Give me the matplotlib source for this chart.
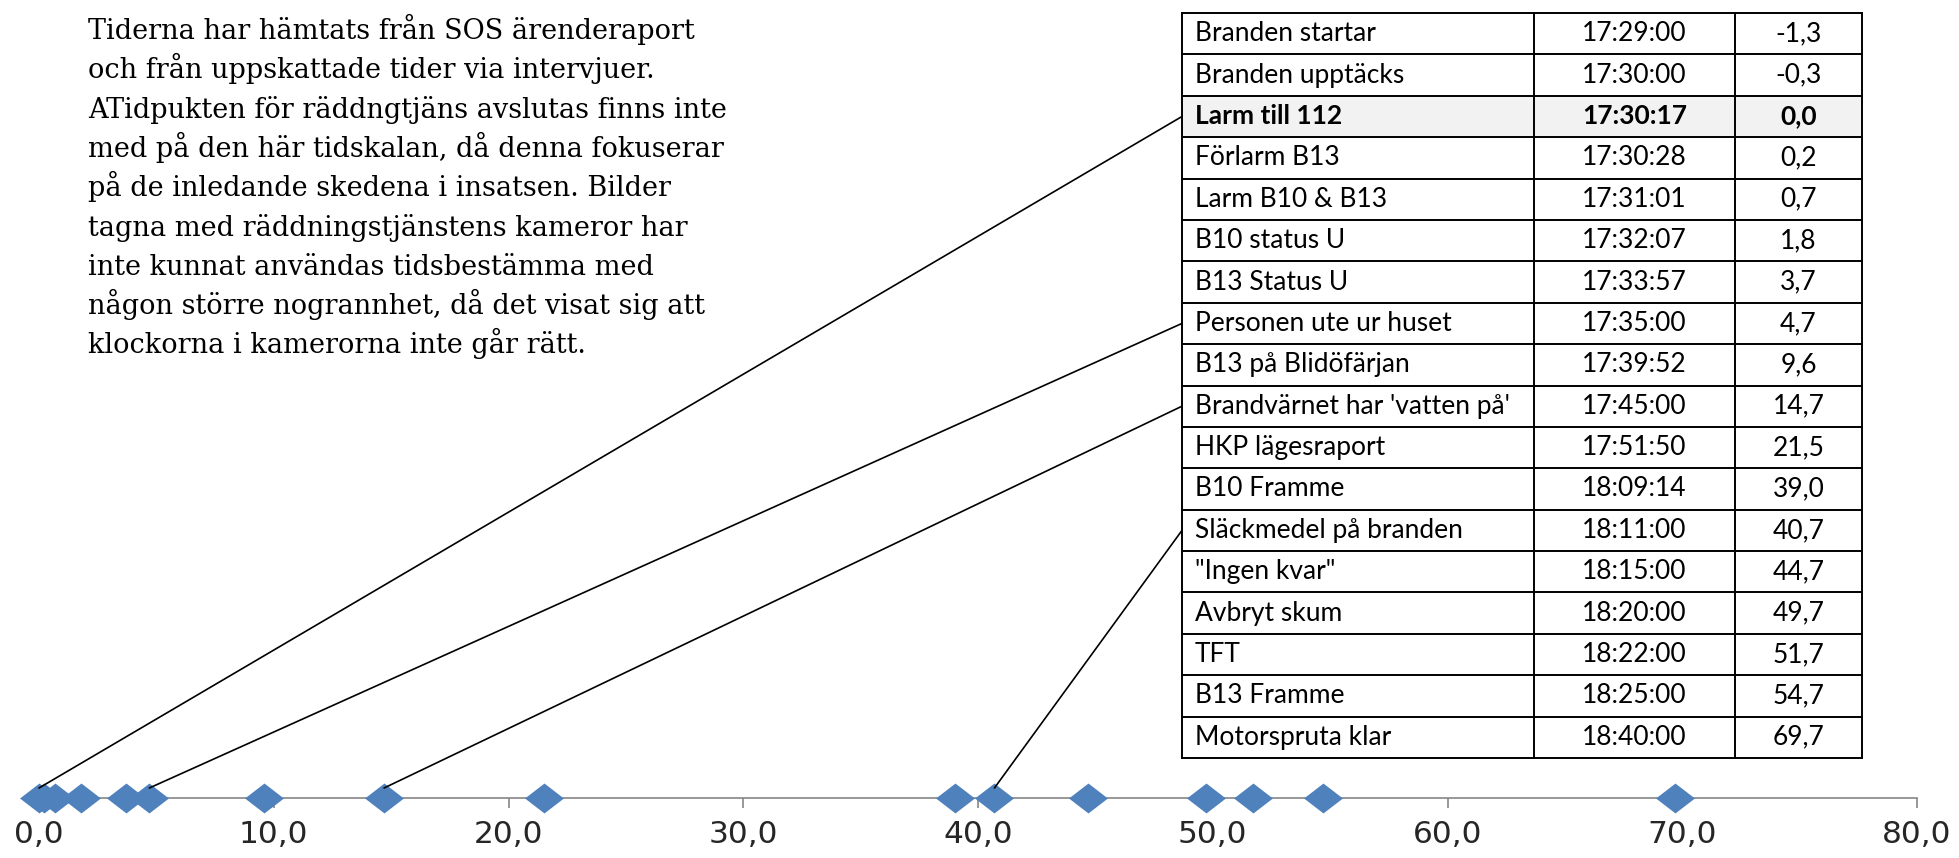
import matplotlib
matplotlib.use('Agg')
import matplotlib.pyplot as plt
from matplotlib.patches import Rectangle, ConnectionPatch
from matplotlib.transforms import ScaledTranslation

# --- data ---
events = ['Branden startar', 'Branden upptäcks', 'Larm till 112', 'Förlarm B13',
          'Larm B10 & B13', 'B10 status U', 'B13 Status U', 'Personen ute ur huset',
          'B13 på Blidöfärjan', "Brandvärnet har 'vatten på'", 'HKP lägesraport',
          'B10 Framme', 'Släckmedel på branden', '"Ingen kvar"', 'Avbryt skum',
          'TFT', 'B13 Framme', 'Motorspruta klar']
times = ['17:29:00', '17:30:00', '17:30:17', '17:30:28', '17:31:01', '17:32:07',
         '17:33:57', '17:35:00', '17:39:52', '17:45:00', '17:51:50', '18:09:14',
         '18:11:00', '18:15:00', '18:20:00', '18:22:00', '18:25:00', '18:40:00']
minutes = [-1.3, -0.3, 0.0, 0.2, 0.7, 1.8, 3.7, 4.7, 9.6, 14.7, 21.5, 39.0,
           40.7, 44.7, 49.7, 51.7, 54.7, 69.7]
highlight_row = 2
linked_rows = [2, 7, 9, 12]   # rader med linje till tidslinjen

x_ticks = [0, 10, 20, 30, 40, 50, 60, 70, 80]
x_ticklabels = ['0,0', '10,0', '20,0', '30,0', '40,0', '50,0', '60,0', '70,0', '80,0']

note_lines = [
    'Tiderna har hämtats från SOS ärenderaport',
    'och från uppskattade tider via intervjuer.',
    'ATidpukten för räddngtjäns avslutas finns inte',
    'med på den här tidskalan, då denna fokuserar',
    'på de inledande skedena i insatsen. Bilder',
    'tagna med räddningstjänstens kameror har',
    'inte kunnat användas tidsbestämma med',
    'någon större nogrannhet, då det visat sig att',
    'klockorna i kamerorna inte går rätt.',
]

# --- figur ---
W, H = 1959, 858
fig = plt.figure(figsize=(W / 100, H / 100), dpi=100)
SANS = ['Lato', 'DejaVu Sans']
BLUE = '#4F81BD'

# tidslinje
ax_left, ax_right, ax_y = 39, 1917, 798
ax = fig.add_axes([ax_left / W, (H - ax_y) / H, (ax_right - ax_left) / W, 0.1])
ax.set_xlim(0, 80)
ax.set_ylim(0, 1)
for s in ['top', 'left', 'right']:
    ax.spines[s].set_visible(False)
ax.spines['bottom'].set_color('#868686')
ax.spines['bottom'].set_linewidth(1.2)
ax.set_yticks([])
ax.set_xticks(x_ticks)
ax.set_xticklabels(x_ticklabels, fontfamily=['DejaVu Sans'], fontsize=22.5, color='#262626')
ax.tick_params(axis='x', direction='out', length=7, width=1.2, color='#868686', pad=9)
ax.patch.set_alpha(0)

shown = [m for m in minutes if 0 <= m <= 80]
diamond = [(-1.3, 0), (0, 1), (1.3, 0), (0, -1), (-1.3, 0)]
ax.plot(shown, [0] * len(shown), linestyle='none', marker=diamond, markersize=28,
        color=BLUE, markeredgewidth=0, clip_on=False, zorder=3)

# tabell
t_left, t_right, t_top, t_bot = 1182, 1862, 13, 758
tab = fig.add_axes([t_left / W, (H - t_bot) / H, (t_right - t_left) / W, (t_bot - t_top) / H])
n = len(events)
tab.set_xlim(0, 1)
tab.set_ylim(n, 0)
tab.axis('off')
c1 = (1534 - t_left) / (t_right - t_left)
c2 = (1735 - t_left) / (t_right - t_left)

tab.add_patch(Rectangle((0, highlight_row), 1, 1, facecolor='#F2F2F2', edgecolor='none'))
for i in range(n + 1):
    tab.plot([0, 1], [i, i], color='black', lw=1.4, clip_on=False, solid_capstyle='projecting')
for x in [0, c1, c2, 1]:
    tab.plot([x, x], [0, n], color='black', lw=1.4, clip_on=False, solid_capstyle='projecting')

for i, (ev, t, m) in enumerate(zip(events, times, minutes)):
    w = 'bold' if i == highlight_row else 'normal'
    kw = dict(fontfamily=SANS, fontsize=19, fontweight=w, color='black', va='center')
    tab.text(0.019, i + 0.5, ev, ha='left', **kw)
    tab.text((c1 + c2) / 2, i + 0.5, t, ha='center', **kw)
    tab.text((c2 + 1) / 2, i + 0.5, f'{m:.1f}'.replace('.', ','), ha='center', **kw)

# linjer från tabellen till tidslinjen
lift = ax.transData + ScaledTranslation(0, 0.1, fig.dpi_scale_trans)
for r in linked_rows:
    con = ConnectionPatch(xyA=(0, r + 0.5), coordsA=tab.transData,
                          xyB=(minutes[r], 0), coordsB=lift,
                          color='black', lw=1.2, zorder=5)
    fig.add_artist(con)

# förklarande text
for i, line in enumerate(note_lines):
    fig.text(88 / W, 1 - (39 + i * 39.3) / H, line, fontfamily=['DejaVu Serif'],
             fontsize=19.5, va='baseline', ha='left', color='black')

fig.savefig('out.png', dpi=100)
